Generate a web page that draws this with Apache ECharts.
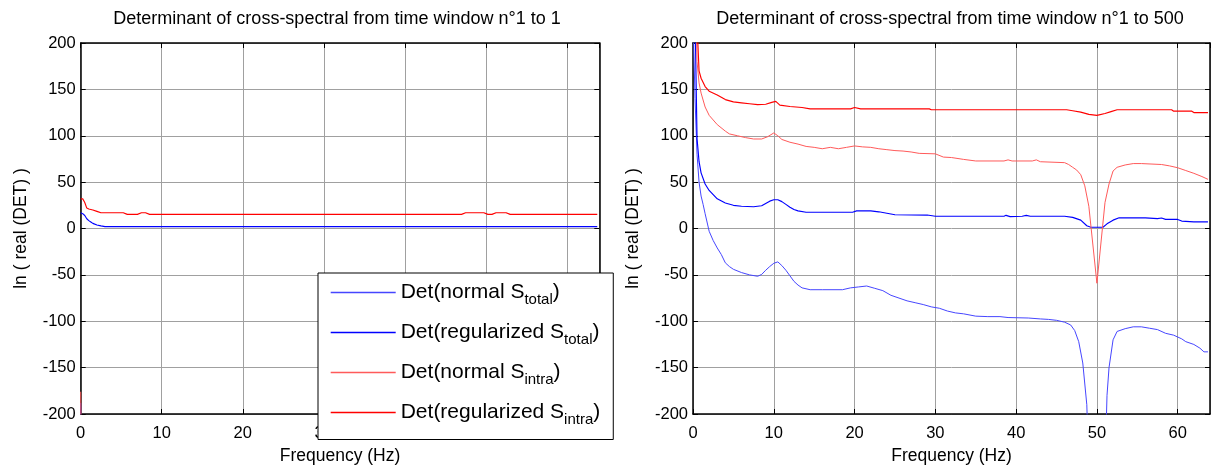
<!DOCTYPE html>
<html><head><meta charset="utf-8">
<script src="https://cdn.jsdelivr.net/npm/echarts@6/dist/echarts.min.js"></script>
<style>html,body{margin:0;padding:0;background:#fff}#c{width:1214px;height:470px}</style>
</head><body><div id="c"></div><script>
const FONT = '"Liberation Sans", Arial, sans-serif';
const titles = ['Determinant of cross-spectral from time window n°1 to 1',
                'Determinant of cross-spectral from time window n°1 to 500'];
const xName = 'Frequency (Hz)';
const yName = 'ln ( real (DET) )';
const seriesNames = ['Det(normal S_total)', 'Det(regularized S_total)', 'Det(normal S_intra)', 'Det(regularized S_intra)'];
const legendMain = ['Det(normal S', 'Det(regularized S', 'Det(normal S', 'Det(regularized S'];
const legendSub = ['total', 'total', 'intra', 'intra'];
const seriesColors = ['#4646ff', '#0000ff', '#ff5a5a', '#ff0000'];
const seriesWidths = [1, 1.15, 1, 1.15];

// ---- left panel: window 1 to 1 ----
const lNormTotF = [0, 0.25];
const lNormTotV = [-188, -420];
const lRegTotF = [0, 0.25, 0.5, 0.75, 1, 1.25, 1.5, 2, 2.5, 3, 63.75];
const lRegTotV = [17, 16, 14, 10.5, 8.5, 7, 5.5, 3.8, 2.8, 2, 2];
const lNormIntraF = [0, 0.25];
const lNormIntraV = [-176, -420];
const lRegIntraF = [0, 0.25, 0.5, 0.75, 1, 1.5, 2, 2.5, 5.25, 5.75, 7, 7.5, 8, 8.5, 47, 47.5, 49.75, 50.25, 50.75, 51.25, 52.5, 53, 63.75];
const lRegIntraV = [32, 32, 28, 22, 21, 20, 18.5, 17, 17, 15.2, 15.2, 17, 17, 15.2, 15.2, 17, 17, 15.2, 15.2, 17, 17, 15.2, 15.2];

// ---- right panel: window 1 to 500 ----
const rNormTotF = [0, 0.25, 0.5, 0.75, 1, 1.25, 1.5, 2, 2.5, 3, 3.5, 4, 4.5, 5, 6, 7, 8, 8.5, 9, 9.5, 10, 10.5, 11, 11.5, 12, 12.5, 13, 13.5, 14.5, 16, 18.5, 19.5, 20.5, 21.5, 22.5, 23.5, 24.5, 25.5, 26.5, 27.5, 28.5, 29.5, 30.5, 31.5, 32.5, 33.5, 35, 36.5, 38, 39, 41.5, 43, 44, 45, 46, 46.75, 47.25, 47.75, 48.25, 48.75, 49, 50, 51, 51.25, 51.5, 52, 52.5, 53.5, 54.5, 55.5, 56.5, 57.5, 58.5, 59.5, 60.5, 61, 62, 62.75, 63.25, 63.75];
const rNormTotV = [230, 140, 80, 50, 35, 26, 16, -3, -13, -21, -28, -37, -41, -44, -47.5, -50, -51.5, -49.5, -45, -41, -37.5, -36, -40, -45, -51, -57, -61, -64, -66, -66, -66, -64, -63, -62, -64.5, -67, -72, -75, -78, -80, -82, -84.5, -86, -89, -91, -92, -94.5, -95, -95, -96, -96.5, -97.5, -98, -99, -101, -104, -110, -122, -145, -190, -260, -400, -260, -180, -150, -120, -111, -108, -106, -106, -107.5, -109, -113, -115, -119, -122, -125, -129, -133, -133];
const rRegTotF = [0, 0.25, 0.5, 0.75, 1, 1.5, 2, 3, 4, 5, 6, 7.5, 8.5, 9, 9.5, 10, 10.5, 11, 11.5, 12, 12.5, 13, 14, 19.75, 20.25, 22, 23, 24, 25, 29, 30, 38.5, 38.75, 39.25, 40.75, 41.25, 41.75, 46, 47, 48, 48.75, 49.25, 50.75, 51.25, 52, 52.75, 56, 57.5, 58, 58.5, 60, 60.5, 62, 63.75];
const rRegTotV = [350, 230, 97, 72, 60, 48, 41, 32, 27.5, 25, 24, 23.5, 24.5, 27, 29.5, 31, 31, 29, 26, 23, 20.5, 19, 17.5, 17.5, 19, 19, 18, 16.5, 14.8, 14.5, 13.2, 13.2, 14.2, 12.8, 13.2, 14.2, 13.2, 13.2, 12, 9, 3, 1.4, 1.4, 5, 9, 11.5, 11.5, 10.6, 11.3, 9.8, 9.8, 8, 7.2, 7.2];
const rNormIntraF = [0, 0.25, 0.5, 0.75, 1, 1.5, 2, 2.5, 3, 4, 4.5, 5.5, 6.5, 7.5, 8.5, 9.25, 10, 10.5, 11, 12, 13, 14, 15, 16, 17, 18, 19, 20, 21, 22, 23, 24, 25, 26, 27, 28, 30, 31, 32, 33.5, 35, 38.5, 39, 39.5, 42, 42.5, 43, 46, 46.5, 47, 47.5, 48, 48.5, 49, 50, 51, 51.5, 52, 52.5, 53.5, 54.5, 55.5, 58, 59, 60, 61, 62, 63, 63.75];
const rNormIntraV = [500, 300, 180, 157, 146, 131, 122, 117, 112, 105, 102, 100, 98, 96.5, 96.5, 99, 103, 100, 96, 93, 91, 88.5, 87.5, 86, 87.5, 86, 87.5, 89, 88, 87.5, 86, 85, 84, 83.5, 82.5, 81, 80.5, 77, 76.5, 74.5, 72.8, 72.8, 74, 72.8, 72.8, 74, 72, 71, 69, 66, 63, 58, 46, 24, -59, 28, 48, 62, 66, 68.5, 70, 70, 69, 67.5, 65.5, 62.5, 59.5, 56, 53];
const rRegIntraF = [0, 0.5, 0.6, 0.75, 1, 1.5, 2, 3, 4, 5, 6, 7, 8, 9, 9.75, 10.25, 10.75, 12, 13.5, 14.5, 19.5, 20, 20.75, 29.25, 29.5, 46.25, 47, 48, 49, 50, 51, 51.75, 52.5, 59.25, 59.5, 61.75, 62, 63.75];
const rRegIntraV = [600, 250, 200, 170, 162, 153, 148, 144, 139, 136.5, 135.5, 134.5, 133.5, 134, 136, 137, 133, 131.5, 130.5, 129, 129, 130.5, 129, 129, 128, 128, 127, 125.5, 123, 122, 124, 126, 128, 128, 126.5, 126.5, 125, 125];

const xTickStep = 10, xMin = 0, xMax = 64;
const yTickStep = 50, yMin = -200, yMax = 200;

function zip(f, v) { return f.map((x, i) => [x, v[i]]); }
const panels = [
  [zip(lNormTotF, lNormTotV), zip(lRegTotF, lRegTotV), zip(lNormIntraF, lNormIntraV), zip(lRegIntraF, lRegIntraV)],
  [zip(rNormTotF, rNormTotV), zip(rRegTotF, rRegTotV), zip(rNormIntraF, rNormIntraV), zip(rRegIntraF, rRegIntraV)]
];

const gridPos = [{left: 80.7, top: 43, width: 518.6, height: 376.5}, {left: 693, top: 43, width: 517, height: 376.5}];
const titleCenters = [337, 950];

const black = {color: '#000', width: 1};
const xAxes = [], yAxes = [], series = [];
gridPos.forEach((g, gi) => {
  xAxes.push({
    gridIndex: gi, type: 'value', min: xMin, max: xMax, interval: xTickStep, position: 'bottom',
    axisLine: {onZero: false, lineStyle: {color: '#000', width: 1.5}},
    axisTick: {inside: true, length: 5, lineStyle: black},
    axisLabel: {showMaxLabel: false, fontSize: 16.5, color: '#000', fontFamily: FONT, margin: 11},
    splitLine: {show: true, lineStyle: {color: '#a0a0a0', width: 1}},
    name: xName, nameLocation: 'middle', nameGap: 33,
    nameTextStyle: {fontSize: 17.5, color: '#000', fontFamily: FONT}
  });
  xAxes.push({
    gridIndex: gi, type: 'value', min: xMin, max: xMax, interval: xTickStep, position: 'top',
    axisLine: {onZero: false, lineStyle: {color: '#000', width: 1.5}},
    axisTick: {inside: true, length: 5, lineStyle: black},
    axisLabel: {show: false}, splitLine: {show: false}
  });
  yAxes.push({
    gridIndex: gi, type: 'value', min: yMin, max: yMax, interval: yTickStep, position: 'left',
    axisLine: {onZero: false, lineStyle: {color: '#000', width: 1.5}},
    axisTick: {inside: true, length: 5, lineStyle: black},
    axisLabel: {fontSize: 16.5, color: '#000', fontFamily: FONT, margin: 5},
    splitLine: {show: true, lineStyle: {color: '#a0a0a0', width: 1}},
    name: yName, nameLocation: 'middle', nameGap: 51,
    nameTextStyle: {fontSize: 17.5, color: '#000', fontFamily: FONT}
  });
  yAxes.push({
    gridIndex: gi, type: 'value', min: yMin, max: yMax, interval: yTickStep, position: 'right',
    axisLine: {onZero: false, lineStyle: {color: '#000', width: 1.5}},
    axisTick: {inside: true, length: 5, lineStyle: black},
    axisLabel: {show: false}, splitLine: {show: false}
  });
  panels[gi].forEach((data, si) => {
    series.push({
      type: 'line', name: seriesNames[si], xAxisIndex: gi * 2, yAxisIndex: gi * 2,
      data: data, showSymbol: false, symbol: 'none', clip: true, animation: false,
      lineStyle: {color: seriesColors[si], width: seriesWidths[si]},
      itemStyle: {color: seriesColors[si]}, z: 3
    });
  });
});

const chart = echarts.init(document.getElementById('c'), null, {renderer: 'canvas'});
chart.setOption({
  backgroundColor: '#fff',
  animation: false,
  title: titles.map((t, i) => ({
    text: t, left: titleCenters[i] - 5, top: 5, textAlign: 'center',
    textStyle: {fontSize: 18, fontWeight: 'normal', color: '#000', fontFamily: FONT}
  })),
  grid: gridPos.map(g => Object.assign({containLabel: false}, g)),
  xAxis: xAxes, yAxis: yAxes, series: series,
  legend: {
    data: seriesNames, orient: 'vertical', left: 318, top: 273,
    padding: [9, 13, 12, 12.7], itemWidth: 65, itemHeight: 1.5, itemGap: 14.5, icon: 'rect',
    backgroundColor: '#fff', borderColor: '#000', borderWidth: 1, borderRadius: 0,
    selectedMode: false, z: 10,
    formatter: function (name) {
      const i = seriesNames.indexOf(name);
      return '{m|' + legendMain[i] + '}{s|' + legendSub[i] + '}{m|)}';
    },
    textStyle: {
      fontFamily: FONT, color: '#000',
      rich: {
        m: {fontSize: 21, lineHeight: 30, verticalAlign: 'middle', fontFamily: FONT, color: '#000'},
        s: {fontSize: 15, lineHeight: 12, verticalAlign: 'bottom', fontFamily: FONT, color: '#000'}
      }
    }
  }
});
</script></body></html>
